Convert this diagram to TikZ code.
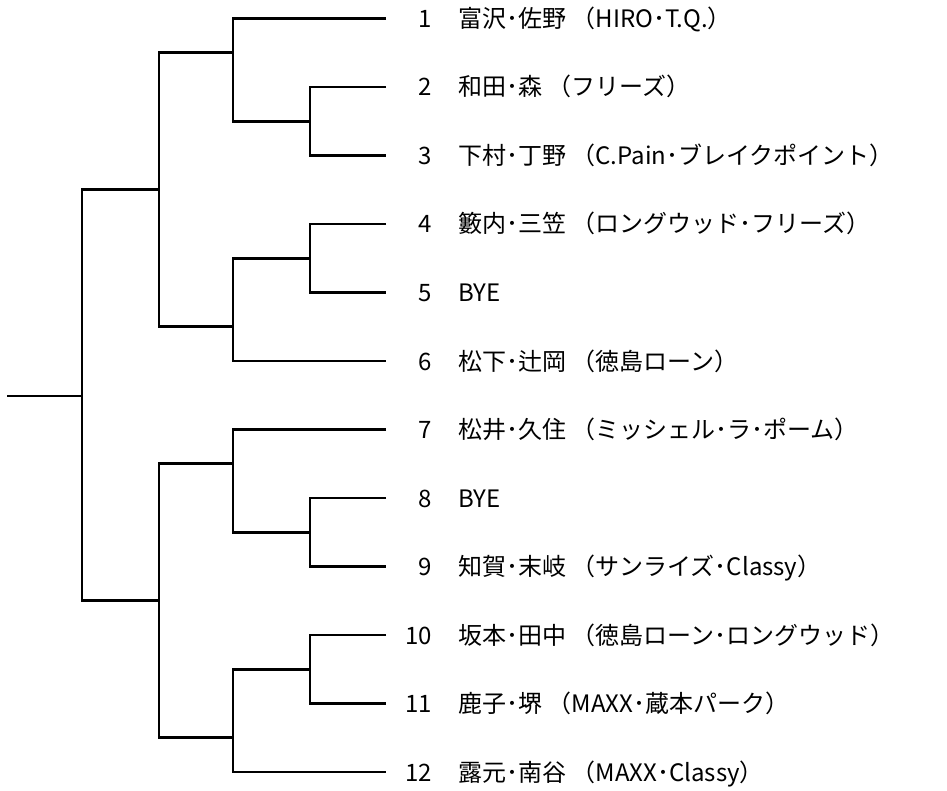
\documentclass[tikz,border=0pt]{standalone}
\usepackage{fontspec}
\newfontfamily\jpfont{Noto Sans CJK JP}
\tikzset{
    bracket/.style={line width=2.9pt, line join=miter},
    seednum/.style={anchor=east, inner sep=0pt, font=\jpfont\fontsize{24}{27}\selectfont, text height=21pt, text depth=3pt},
    pairtext/.style={anchor=west, inner sep=0pt, font=\jpfont\fontsize{24}{27}\selectfont, text height=21pt, text depth=3pt}
}
\begin{document}
\begin{tikzpicture}[x=1pt, y=-1pt]
                \useasboundingbox (0, 0) rectangle (947, 791);

                \coordinate (e1) at (386, 18.5);
                \coordinate (e2) at (386, 87);
                \coordinate (e3) at (386, 155.5);
                \coordinate (e4) at (386, 224);
                \coordinate (e5) at (386, 292.5);
                \coordinate (e6) at (386, 361);
                \coordinate (e7) at (386, 429.5);
                \coordinate (e8) at (386, 498);
                \coordinate (e9) at (386, 566.5);
                \coordinate (e10) at (386, 635);
                \coordinate (e11) at (386, 703.5);
                \coordinate (e12) at (386, 772);

                \coordinate (m23) at (310, 121.25);
                \coordinate (m45) at (310, 258.25);
                \coordinate (m89) at (310, 532.25);
                \coordinate (m1011) at (310, 669.25);
                \coordinate (mA) at (233, 52.75);
                \coordinate (mB) at (233, 326.75);
                \coordinate (mC) at (233, 463.75);
                \coordinate (mD) at (233, 737.75);
                \coordinate (mTop) at (159, 189.75);
                \coordinate (mBot) at (159, 600.75);
                \coordinate (mFinal) at (82, 396);
                \coordinate (champ) at (7, 396);

                \draw[bracket] (e2) -| (m23) |- (e3);
                \draw[bracket] (e1) -| (mA) |- (m23);
                \draw[bracket] (e4) -| (m45) |- (e5);
                \draw[bracket] (m45) -| (mB) |- (e6);
                \draw[bracket] (mA) -| (mTop) |- (mB);

                \draw[bracket] (e8) -| (m89) |- (e9);
                \draw[bracket] (e7) -| (mC) |- (m89);
                \draw[bracket] (e10) -| (m1011) |- (e11);
                \draw[bracket] (m1011) -| (mD) |- (e12);
                \draw[bracket] (mC) -| (mBot) |- (mD);

                \draw[bracket] (mTop) -| (mFinal) |- (mBot);
                \draw[bracket] (champ) -- (mFinal);

                \node[seednum] (n1) at (432, 18.5) {1};
                \node[pairtext] (t1) at (458, 18.5) {富沢･佐野 （HIRO･T.Q.）};
                \node[seednum] (n2) at (432, 87) {2};
                \node[pairtext] (t2) at (458, 87) {和田･森 （フリーズ）};
                \node[seednum] (n3) at (432, 155.5) {3};
                \node[pairtext] (t3) at (458, 155.5) {下村･丁野 （C.Pain･ブレイクポイント）};
                \node[seednum] (n4) at (432, 224) {4};
                \node[pairtext] (t4) at (458, 224) {籔内･三笠 （ロングウッド･フリーズ）};
                \node[seednum] (n5) at (432, 292.5) {5};
                \node[pairtext] (t5) at (458, 292.5) {BYE};
                \node[seednum] (n6) at (432, 361) {6};
                \node[pairtext] (t6) at (458, 361) {松下･辻岡 （徳島ローン）};
                \node[seednum] (n7) at (432, 429.5) {7};
                \node[pairtext] (t7) at (458, 429.5) {松井･久住 （ミッシェル･ラ･ポーム）};
                \node[seednum] (n8) at (432, 498) {8};
                \node[pairtext] (t8) at (458, 498) {BYE};
                \node[seednum] (n9) at (432, 566.5) {9};
                \node[pairtext] (t9) at (458, 566.5) {知賀･末岐 （サンライズ･Classy）};
                \node[seednum] (n10) at (432, 635) {10};
                \node[pairtext] (t10) at (458, 635) {坂本･田中 （徳島ローン･ロングウッド）};
                \node[seednum] (n11) at (432, 703.5) {11};
                \node[pairtext] (t11) at (458, 703.5) {鹿子･堺 （MAXX･蔵本パーク）};
                \node[seednum] (n12) at (432, 772) {12};
                \node[pairtext] (t12) at (458, 772) {露元･南谷 （MAXX･Classy）};
\end{tikzpicture}
\end{document}
